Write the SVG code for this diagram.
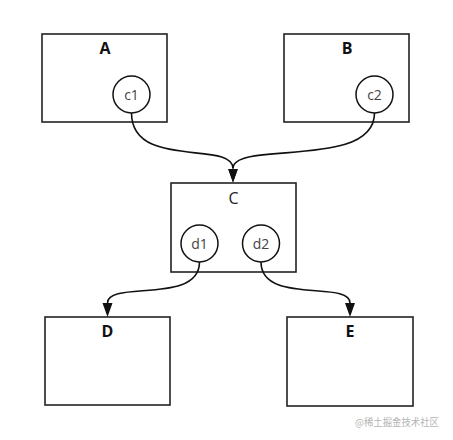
<svg xmlns="http://www.w3.org/2000/svg" width="453" height="440" viewBox="0 0 453 440">
<style>
.box{fill:#fff;stroke:#222;stroke-width:1.6}
.port{fill:#fff;stroke:#111;stroke-width:1.5}
.lbl{font-family:"Open Sans","Noto Sans",sans-serif;font-size:16px;font-weight:bold;fill:#111;text-anchor:middle}
.lblc{font-family:"Open Sans","Noto Sans",sans-serif;font-size:16px;fill:#222;text-anchor:middle}
.plbl{font-family:"Open Sans","Noto Sans",sans-serif;font-size:14px;fill:#444;text-anchor:middle}
.edge{fill:none;stroke:#111;stroke-width:1.6}
.wm{font-family:"Noto Sans CJK SC","Noto Sans",sans-serif;font-size:10px;fill:#b5b5b5}
</style>
<defs>
<marker id="arr" viewBox="0 0 14 11" refX="0" refY="5.5" markerWidth="14" markerHeight="11" markerUnits="userSpaceOnUse" orient="auto">
<path d="M0,0.5 L14,5.5 L0,10.5 Z" fill="#111"/>
</marker>
</defs>
<rect width="453" height="440" fill="#fff"/>
<g id="A">
<rect class="box" x="42" y="34" width="125" height="88"/>
<text class="lbl" x="105" y="54">A</text>
<circle class="port" cx="131.5" cy="94.5" r="18.5"/>
<text class="plbl" x="131.5" y="99.5">c1</text>
</g>
<g id="B">
<rect class="box" x="284" y="34" width="125" height="88"/>
<text class="lbl" x="347" y="54">B</text>
<circle class="port" cx="374.5" cy="94.5" r="18.5"/>
<text class="plbl" x="374.5" y="99.5">c2</text>
</g>
<g id="C">
<rect class="box" x="171" y="183" width="125" height="89"/>
<text class="lblc" x="233.5" y="203.5">C</text>
<circle class="port" cx="199.5" cy="243.5" r="18.5"/>
<text class="plbl" x="199.5" y="248.5">d1</text>
<circle class="port" cx="261" cy="243.5" r="18.5"/>
<text class="plbl" x="261" y="248.5">d2</text>
</g>
<g id="D">
<rect class="box" x="45" y="317" width="125" height="88"/>
<text class="lbl" x="107.5" y="336.5">D</text>
</g>
<g id="E">
<rect class="box" x="287" y="317" width="126" height="89"/>
<text class="lbl" x="350" y="336.5">E</text>
</g>
<g id="connectors">
<path class="edge" d="M131.5,113 C131.5,170 233,140 233,168.5" marker-end="url(#arr)"/>
<path class="edge" d="M374.5,113 C374.5,170 233,140 233,168.5" marker-end="url(#arr)"/>
<path class="edge" d="M199.5,262 C199.5,305 107.5,280 107.5,303" marker-end="url(#arr)"/>
<path class="edge" d="M261,262 C261,305 350,280 350,303" marker-end="url(#arr)"/>
</g>
<text class="wm" x="355" y="426" textLength="84" lengthAdjust="spacingAndGlyphs">@稀土掘金技术社区</text>
</svg>
